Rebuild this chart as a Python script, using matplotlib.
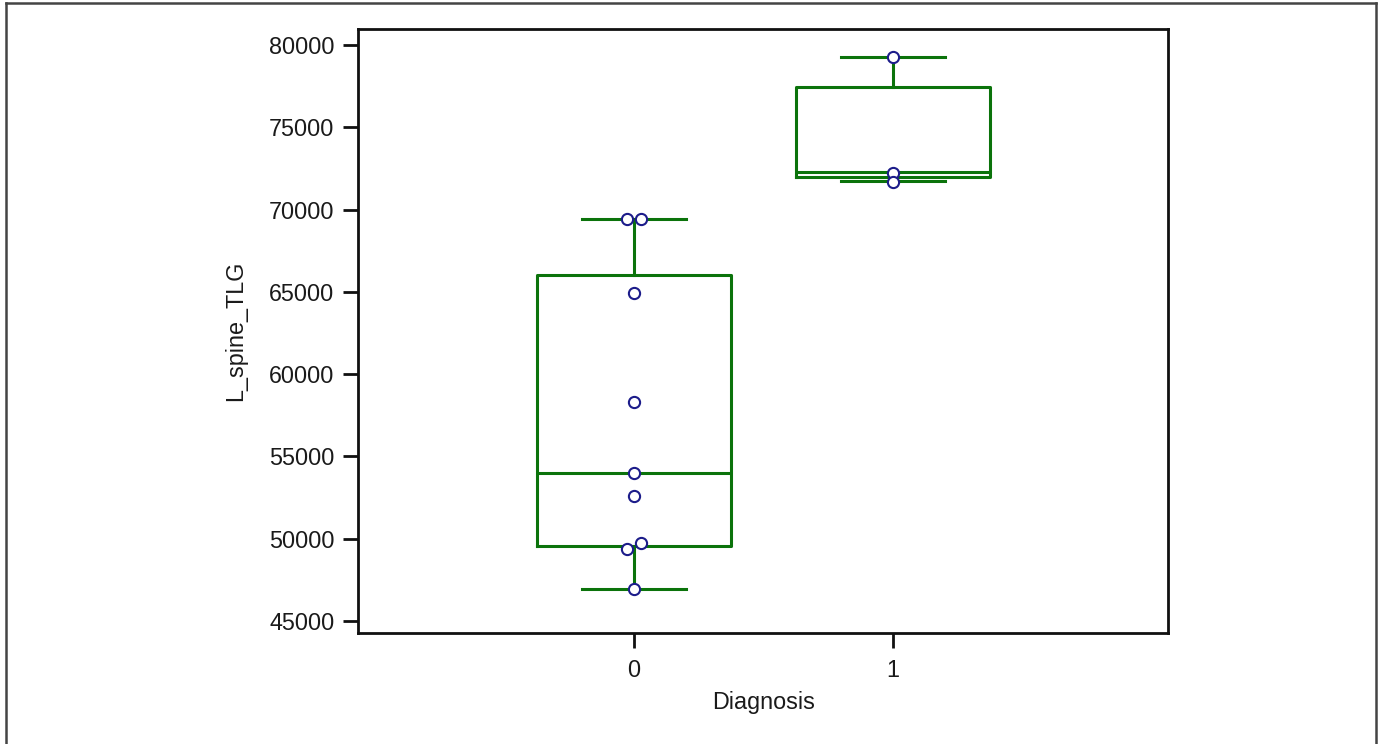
import matplotlib.pyplot as plt
from matplotlib.lines import Line2D

plt.rcParams['font.family'] = ['Liberation Sans', 'DejaVu Sans']

# groups on the x axis
diagnosis = [0, 1]

# box statistics
q1 = [49560, 71980]
med = [53990, 72280]
q3 = [66020, 77450]
whislo = [46940, 71740]
whishi = [69430, 79270]

# individual points (x = group position incl. small horizontal offset)
pts_x = [-0.027, 0.027, 0.0, 0.0, 0.0, 0.0, 0.027, -0.027, 0.0,
         1.0, 1.0, 1.0]
pts_y = [69430, 69430, 64930, 58310, 53990, 52600, 49740, 49375, 46940,
         79270, 72250, 71700]

yticks = [45000, 50000, 55000, 60000, 65000, 70000, 75000, 80000]

green = '#0b730b'
navy = '#1c1c8a'

fig = plt.figure(figsize=(13.83, 7.44), dpi=100)
ax = fig.add_axes([0.2589, 0.1492, 0.5857, 0.8118])

stats = []
for i in range(len(diagnosis)):
    stats.append({'q1': q1[i], 'med': med[i], 'q3': q3[i],
                  'whislo': whislo[i], 'whishi': whishi[i], 'fliers': []})

ax.bxp(stats, positions=diagnosis, widths=0.752, showfliers=False,
       capwidths=0.4,
       boxprops=dict(color=green, linewidth=2.2),
       medianprops=dict(color=green, linewidth=2.2),
       whiskerprops=dict(color=green, linewidth=2.2),
       capprops=dict(color=green, linewidth=2.2))

ax.scatter(pts_x, pts_y, s=65, facecolor='white', edgecolor=navy,
           linewidth=1.5, zorder=5)

ax.set_xlim(-1.066, 2.062)
ax.set_ylim(44270, 80970)
ax.set_xticks(diagnosis)
ax.set_xticklabels([str(d) for d in diagnosis])
ax.set_yticks(yticks)
ax.set_yticklabels([str(v) for v in yticks])

for sp in ax.spines.values():
    sp.set_linewidth(2)
    sp.set_color('#111111')
ax.tick_params(axis='both', length=11, width=2, color='#111111',
               labelsize=16.8, labelcolor='#1a1a1a')
ax.tick_params(axis='y', pad=6)
ax.tick_params(axis='x', pad=8)

ax.set_xlabel('Diagnosis', fontsize=16.8, color='#1a1a1a', labelpad=6)
ax.set_ylabel('L_spine_TLG', fontsize=16.8, color='#1a1a1a', labelpad=16)

# thin frame around the whole figure (top, left, right)
fw, fh = 1383.0, 744.0
frame_kw = dict(color='#444444', linewidth=1.8, transform=fig.transFigure)
fig.add_artist(Line2D([6 / fw, 1376 / fw], [1 - 3 / fh, 1 - 3 / fh], **frame_kw))
fig.add_artist(Line2D([6 / fw, 6 / fw], [0, 1 - 3 / fh], **frame_kw))
fig.add_artist(Line2D([1376 / fw, 1376 / fw], [0, 1 - 3 / fh], **frame_kw))

fig.savefig('out.png', dpi=100)
